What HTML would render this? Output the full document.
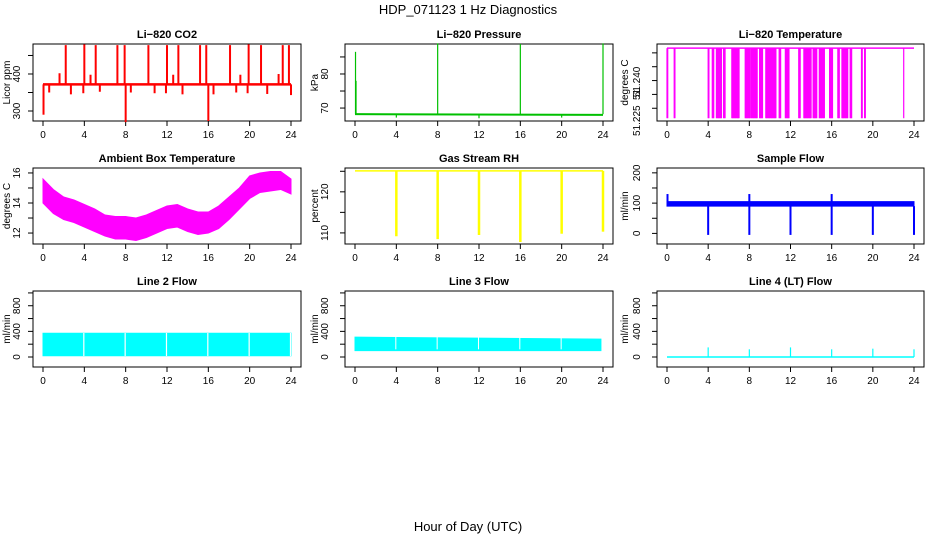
<!DOCTYPE html>
<html><head><meta charset="utf-8"><style>
body{margin:0;background:#fff}
svg{display:block;font-family:"Liberation Sans",Arial,sans-serif}
</style></head><body>
<svg id="c" width="936" height="540" viewBox="0 0 936 540">
<text x="468" y="14" font-size="13" text-anchor="middle">HDP_071123  1 Hz Diagnostics</text>
<text x="468" y="531" font-size="13" text-anchor="middle">Hour of Day (UTC)</text>
</svg>
<script>
const xTicks=[0,4,8,12,16,20,24];
// CO2
const co2Hours=[0,24];
const co2Base=[372,372];
const co2SpikeT=[0.05,0.6,1.6,2.2,2.7,3.9,4.0,4.6,5.1,5.5,7.2,7.9,8.0,8.5,10.2,10.8,11.9,12.0,12.6,13.1,13.5,15.2,15.8,16.0,16.5,18.1,18.7,19.1,19.8,19.9,21.1,21.7,22.8,23.2,23.8,24.0];
const co2SpikeV=[290,350,402,478,345,348,480,398,478,352,478,478,270,350,478,348,348,478,398,478,345,478,478,273,345,478,350,398,348,480,478,346,400,478,478,343];
// Pressure
const presBase=[68.2,68.0];
const presSpikeT=[0.05,0.1,4.0,8.0,12.0,16.0,20.0,24.0];
const presSpikeV=[86.5,78,67.2,89,67.0,88.8,67.2,89];
// Li-820 temperature dips (start,end hours)
const tempTop=51.2467;
const tempLow=51.2214;
const tempDipStart=[0,0.7,4.0,4.4,4.8,5.5,6.3,7.6,8.2,9.0,9.6,10.9,11.5,12.8,13.3,14.2,14.8,15.8,16.6,17.0,17.8,18.9,19.2,23.0];
const tempDipEnd=[0.1,0.8,4.1,4.6,5.3,5.7,7.0,8.1,8.8,9.3,10.6,11.1,11.9,13.0,14.0,14.6,15.3,16.1,16.8,17.6,18.0,19.0,19.3,23.02];
const tempTicks=[51.225,51.230,51.235,51.240,51.245];
const tempLabels=['51.225','51','51.240'];
const tempLabelAt=[51.2205,51.2300,51.2345];
// Ambient box temperature
const ambHours=[0,1,2,3,4,5,6,7,8,9,10,11,12,13,14,15,16,17,18,19,20,21,22,23,24];
const ambUpper=[15.6,14.9,14.4,14.2,13.9,13.6,13.2,13.1,13.1,13.0,13.2,13.5,13.8,13.9,13.6,13.4,13.4,13.8,14.4,15.0,15.8,16.0,16.1,16.1,15.6];
const ambLower=[14.0,13.3,12.9,12.7,12.4,12.1,11.8,11.6,11.6,11.5,11.7,12.0,12.3,12.4,12.1,11.9,12.0,12.3,12.9,13.6,14.3,14.7,14.8,14.9,14.6];
// Gas stream RH
const rhBase=[125.1,125.1];
const rhDipT=[4.0,8.0,12.0,16.0,20.0,24.0];
const rhDipV=[109.2,108.5,109.5,107.8,109.8,110.3];
// Sample flow
const sfUpper=[105,105];
const sfLower=[90,90];
const sfDipT=[4.0,8.0,12.0,16.0,20.0,24.0];
const sfDipV=[-5,-5,-5,-5,-5,-5];
const sfSpikeT=[0.05,8.0,16.0];
const sfSpikeV=[130,130,130];
// Line 2/3/4 flows
const l2Upper=[370,370];
const l2Lower=[20,20];
const l2GapT=[4.0,8.0,12.0,16.0,20.0,24.0];
const l3Upper=[310,280];
const l3Lower=[100,100];
const l3GapT=[4.0,8.0,12.0,16.0,20.0];
const l4Base=[0,0];
const l4SpikeT=[4.0,8.0,12.0,16.0,20.0,24.0];
const l4SpikeV=[150,120,150,120,130,120];

const NS="http://www.w3.org/2000/svg";
const svg=document.getElementById('c');
function el(tag,attrs,parent){const e=document.createElementNS(NS,tag);for(const k in attrs)e.setAttribute(k,attrs[k]);(parent||svg).appendChild(e);return e;}

function panel(name,title,l,r,t,b,ymin,ymax,yticks,ylabels,ylab,ylabX,tlabX,labelAt){
  const g=el('g',{});
  
  
  const sx=v=>l+10+v/24*(r-l-20);
  const sy=v=>b-(v-ymin)/(ymax-ymin)*(b-t);
  const tt=el('text',{x:(l+r)/2,y:t-6,'font-size':11,'font-weight':'bold','text-anchor':'middle'},g);
  tt.textContent=title;
  
  
  const box=el('rect',{x:l,y:t,width:r-l,height:b-t,fill:'none',stroke:'#000','stroke-width':1},g);
  
  
  const xa=el('g',{},g);
  
  
  xTicks.forEach(v=>{el('line',{x1:sx(v),x2:sx(v),y1:b,y2:b+5,stroke:'#000'},xa);
    const tx=el('text',{x:sx(v),y:b+17,'font-size':10,'text-anchor':'middle'},xa);tx.textContent=v;});
  const ya=el('g',{},g);
  
  
  yticks.forEach(v=>{el('line',{x1:l-5,x2:l,y1:sy(v),y2:sy(v),stroke:'#000'},ya);});
  const lp=labelAt||yticks;
  ylabels.forEach((s,i)=>{ if(s!==''){const tx=el('text',{x:0,y:0,'font-size':10,'text-anchor':'middle',transform:`translate(${tlabX},${sy(lp[i])}) rotate(-90)`},ya);tx.textContent=s;}});
  const yl=el('text',{x:0,y:0,'font-size':10,'text-anchor':'middle',transform:`translate(${ylabX},${(t+b)/2}) rotate(-90)`},g);
  yl.textContent=ylab;
  
  
  const d=el('g',{},g);
  
  
  return {sx,sy,d};
}
function vline(p,x,y1,y2,c,w){el('line',{x1:p.sx(x),x2:p.sx(x),y1:p.sy(y1),y2:p.sy(y2),stroke:c,'stroke-width':w||1.2},p.d);}
function hline(p,xs,ys,c,w){el('polyline',{points:xs.map((x,i)=>p.sx(x)+','+p.sy(ys[i])).join(' '),fill:'none',stroke:c,'stroke-width':w||2},p.d);}
function band(p,xs,up,lo,c){const pts=xs.map((x,i)=>p.sx(x)+','+p.sy(up[i])).concat(xs.slice().reverse().map((x,i)=>p.sx(x)+','+p.sy(lo[lo.length-1-i])));el('polygon',{points:pts.join(' '),fill:c,stroke:c},p.d);}

const C=[[33,301,20,10],[345,613,328,318],[657,924,640,628]];
const R=[[44,121],[168,244],[291,367]];

let p=panel('co2-panel','Li−820 CO2',C[0][0],C[0][1],R[0][0],R[0][1],273,481,[300,350,400,450],['300','','400',''],'Licor ppm',C[0][3],C[0][2]);
hline(p,co2Hours,co2Base,'red',2.5);
co2SpikeT.forEach((t,i)=>vline(p,t,co2Base[0],co2SpikeV[i],'red',2));

p=panel('pressure-panel','Li−820 Pressure',C[1][0],C[1][1],R[0][0],R[0][1],66.2,88.8,[70,75,80,85],['70','','80',''],'kPa',C[1][3],C[1][2]);
hline(p,co2Hours,presBase,'#00c000',2);
presSpikeT.forEach((t,i)=>vline(p,t,presBase[0],presSpikeV[i],'#00c000',1.2));

p=panel('licor-temp-panel','Li−820 Temperature',C[2][0],C[2][1],R[0][0],R[0][1],51.2204,51.2482,tempTicks,tempLabels,'degrees C',C[2][3],C[2][2],tempLabelAt);
hline(p,co2Hours,[tempTop,tempTop],'magenta',1.5);
tempDipStart.forEach((s,i)=>{for(let t=s;t<=tempDipEnd[i]+1e-9;t+=0.07)vline(p,t,tempTop,tempLow,'magenta',1.2);});

p=panel('ambient-temp-panel','Ambient Box Temperature',C[0][0],C[0][1],R[1][0],R[1][1],11.27,16.33,[12,13,14,15,16],['12','','14','','16'],'degrees C',C[0][3],C[0][2]);
band(p,ambHours,ambUpper,ambLower,'magenta');

p=panel('rh-panel','Gas Stream RH',C[1][0],C[1][1],R[1][0],R[1][1],107.3,125.8,[110,115,120,125],['110','','120',''],'percent',C[1][3],C[1][2]);
hline(p,co2Hours,rhBase,'yellow',1.5);
rhDipT.forEach((t,i)=>vline(p,t,rhBase[0],rhDipV[i],'yellow',2.5));

p=panel('sample-flow-panel','Sample Flow',C[2][0],C[2][1],R[1][0],R[1][1],-35,216,[0,50,100,150,200],['0','','100','','200'],'ml/min',C[2][3],C[2][2]);
band(p,co2Hours,sfUpper,sfLower,'blue');
sfDipT.forEach((t,i)=>vline(p,t,sfLower[0],sfDipV[i],'blue',2));
sfSpikeT.forEach((t,i)=>vline(p,t,sfUpper[0],sfSpikeV[i],'blue',2));

const fl=[0,200,400,600,800,1000],fll=['0','','400','','800',''];
p=panel('line2-flow-panel','Line 2 Flow',C[0][0],C[0][1],R[2][0],R[2][1],-156,1030,fl,fll,'ml/min',C[0][3],C[0][2]);
band(p,co2Hours,l2Upper,l2Lower,'cyan');
l2GapT.forEach(t=>vline(p,t-0.05,l2Upper[0]+5,l2Lower[0]-5,'#fff',1.2));
p=panel('line3-flow-panel','Line 3 Flow',C[1][0],C[1][1],R[2][0],R[2][1],-156,1030,fl,fll,'ml/min',C[1][3],C[1][2]);
band(p,[0,23.8],l3Upper,l3Lower,'cyan');
l3GapT.forEach(t=>vline(p,t-0.05,l3Upper[0]+5,l3Lower[0]+20,'#fff',1));
p=panel('line4-flow-panel','Line 4 (LT) Flow',C[2][0],C[2][1],R[2][0],R[2][1],-156,1030,fl,fll,'ml/min',C[2][3],C[2][2]);
hline(p,co2Hours,l4Base,'cyan',1.5);
l4SpikeT.forEach((t,i)=>vline(p,t,l4Base[0],l4SpikeV[i],'cyan',1.2));
</script>
</body></html>
